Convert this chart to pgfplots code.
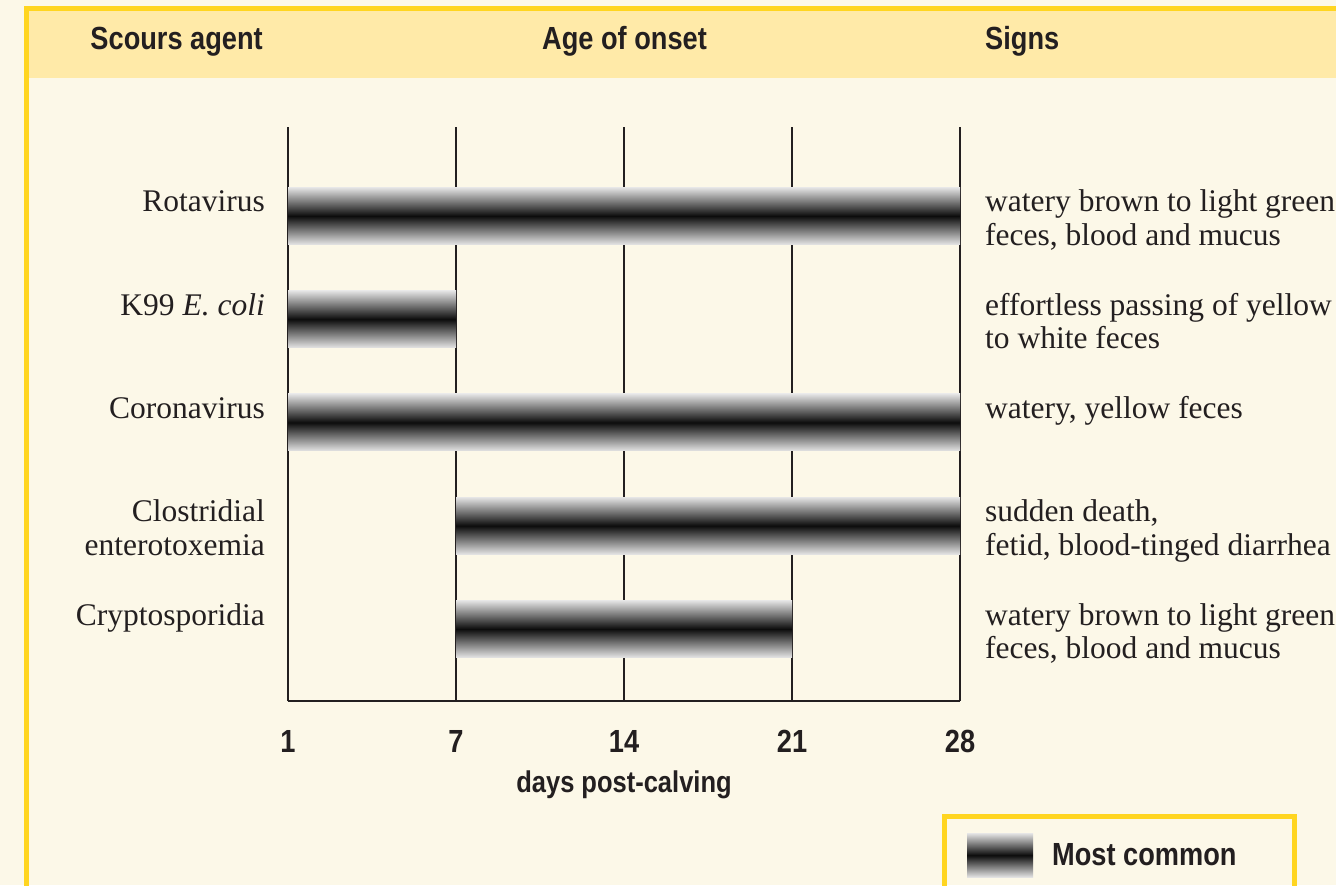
\documentclass[border=0pt]{standalone}
\usepackage{pgfplots}
\pgfplotsset{compat=1.18}
\usepackage{pgfplotstable}
\usepackage{fontspec}
\setmainfont{Liberation Serif}
\newfontfamily\hdr[FakeStretch=0.85]{Liberation Sans}
\definecolor{bg}{RGB}{252,248,232}
\definecolor{hdrbg}{RGB}{255,234,168}
\definecolor{ylw}{RGB}{255,213,32}
\definecolor{ink}{RGB}{35,31,32}
\definecolor{barEdge}{RGB}{228,228,228}
\definecolor{barMid}{RGB}{12,12,12}
\newcommand\labfont{\fontsize{31.5bp}{33.5bp}\selectfont}
\newcommand\hfont{\hdr\bfseries\fontsize{32bp}{38bp}\selectfont}
\newcommand\xlfont{\hdr\bfseries\fontsize{30bp}{36bp}\selectfont}

% rows: 5 = Rotavirus (top) ... 1 = Cryptosporidia (bottom)
% x positions: 0 = day 1, 1 = day 7, 2 = day 14, 3 = day 21, 4 = day 28
\pgfplotstableread{
row start len
5 0 4
4 0 1
3 0 4
2 1 3
1 1 2
}\bars

\begin{document}
\begin{tikzpicture}[x=1bp,y=1bp]
\useasboundingbox (0,0) rectangle (1336,885);
\clip (0,0) rectangle (1336,885);
\fill[bg] (0,0) rectangle (1336,885);
\fill[hdrbg] (29,807) rectangle (1340,874);
\draw[ylw, line width=5bp] (26.5,-10) -- (26.5,876.5) -- (1345,876.5);
\node[anchor=base east, inner sep=0, text=ink, font=\hfont] at (263,835) {Scours agent};
\node[anchor=base, inner sep=0, text=ink, font=\hfont] at (624.5,835) {Age of onset};
\node[anchor=base west, inner sep=0, text=ink, font=\hfont] at (985,835) {Signs};
\draw[ylw, line width=5bp] (944.5,-20) rectangle (1294.5,68.2);

\begin{axis}[
  at={(288bp,184bp)}, anchor=south west,
  scale only axis, width=672bp, height=574bp,
  xmin=0, xmax=4, ymin=0.3027, ymax=5.862,
  axis x line=bottom, axis y line=left,
  axis line style={ink, line width=2bp, -},
  xtick={0,1,2,3,4}, xticklabels={1,7,14,21,28},
  ytick={1,2,3,4,5},
  yticklabels={Cryptosporidia,
    {\begin{tabular}[t]{@{}r@{}}Clostridial\\enterotoxemia\end{tabular}},
    Coronavirus, K99 \textit{E.~coli}, Rotavirus},
  major tick length=0pt,
  xmajorgrids, grid style={ink, line width=2bp},
  xticklabel style={font=\hfont, text=ink, anchor=base, inner sep=0pt, yshift=-51bp},
  yticklabel style={font=\labfont, text=ink, anchor=base east, inner sep=0pt, xshift=-23bp, yshift=4bp},
  xlabel={days post-calving},
  xlabel style={font=\xlfont, text=ink, at={(axis description cs:0.5,0)}, anchor=base, inner sep=0pt, yshift=-91bp},
  clip=false,
  legend image code/.code={\shade[draw=none, top color=barEdge,bottom color=barEdge,middle color=barMid] (0bp,-22bp) rectangle (66bp,22bp);},
  legend style={at={(axis description cs:1.0104,-0.23)}, anchor=north west,
    draw=none, fill=none, inner sep=0pt, font=\hfont, text=ink,
    nodes={inner sep=0pt},
    /tikz/every odd column/.append style={column sep=19bp}},
]
% each bar: starts at "start", extends "len" units (168bp per unit), 57bp tall
\addplot[
  only marks, scatter, mark=*, mark size=0pt,
  mark options={draw=none, fill=none},
  visualization depends on={\thisrow{len} \as \blen},
  scatter/@pre marker code/.code={%
    \shade[draw=none, top color=barEdge, bottom color=barEdge, middle color=barMid]
      (0bp,-28.5bp) rectangle ({\blen*168bp},28.5bp);},
  scatter/@post marker code/.code={},
] table[x=start, y=row]{\bars};
\addlegendentry{Most common}

\node[anchor=base west, inner sep=0, font=\labfont, text=ink] at (axis cs:4,5) [xshift=25bp, yshift=4bp]
  {\begin{tabular}[t]{@{}l@{}}watery brown to light green\\feces, blood and mucus\end{tabular}};
\node[anchor=base west, inner sep=0, font=\labfont, text=ink] at (axis cs:4,4) [xshift=25bp, yshift=4bp]
  {\begin{tabular}[t]{@{}l@{}}effortless passing of yellow\\to white feces\end{tabular}};
\node[anchor=base west, inner sep=0, font=\labfont, text=ink] at (axis cs:4,3) [xshift=25bp, yshift=4bp]
  {watery, yellow feces};
\node[anchor=base west, inner sep=0, font=\labfont, text=ink] at (axis cs:4,2) [xshift=25bp, yshift=4bp]
  {\begin{tabular}[t]{@{}l@{}}sudden death,\\fetid, blood-tinged diarrhea\end{tabular}};
\node[anchor=base west, inner sep=0, font=\labfont, text=ink] at (axis cs:4,1) [xshift=25bp, yshift=4bp]
  {\begin{tabular}[t]{@{}l@{}}watery brown to light green\\feces, blood and mucus\end{tabular}};
\end{axis}
\end{tikzpicture}
\end{document}
